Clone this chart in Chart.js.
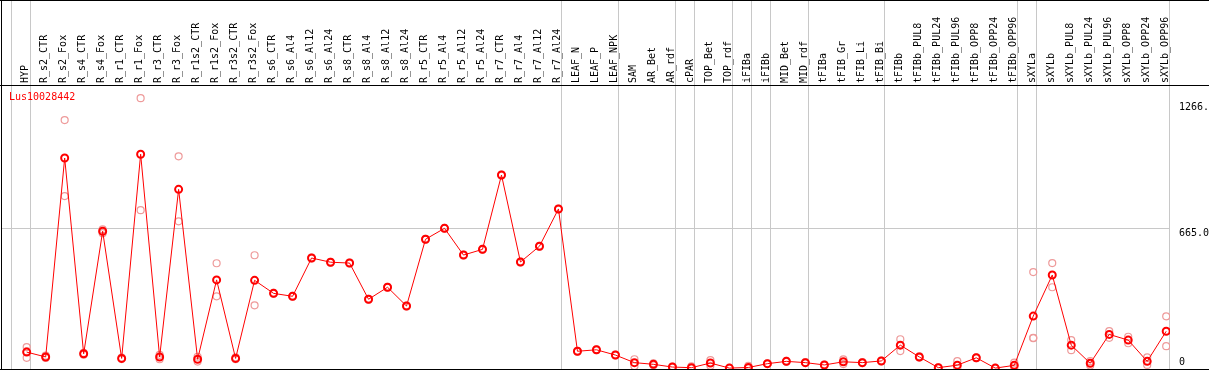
<!DOCTYPE html>
<html>
<head>
<meta charset="utf-8">
<script src="https://cdn.jsdelivr.net/npm/chart.js@4/dist/chart.umd.min.js"></script>
<style>
  html, body { margin: 0; padding: 0; background: #fff; }
  canvas { display: block; }
</style>
</head>
<body>
<canvas id="geneChart" width="1209" height="370"></canvas>
<script>
// Sample names along the top
const categories = [
    'HYP', 'R_s2_CTR', 'R_s2_Fox', 'R_s4_CTR', 'R_s4_Fox', 'R_r1_CTR', 'R_r1_Fox',
    'R_r3_CTR', 'R_r3_Fox', 'R_r1s2_CTR', 'R_r1s2_Fox', 'R_r3s2_CTR', 'R_r3s2_Fox',
    'R_s6_CTR', 'R_s6_Al4', 'R_s6_Al12', 'R_s6_Al24', 'R_s8_CTR', 'R_s8_Al4',
    'R_s8_Al12', 'R_s8_Al24', 'R_r5_CTR', 'R_r5_Al4', 'R_r5_Al12', 'R_r5_Al24',
    'R_r7_CTR', 'R_r7_Al4', 'R_r7_Al12', 'R_r7_Al24', 'LEAF_N', 'LEAF_P', 'LEAF_NPK',
    'SAM', 'AR_Bet', 'AR_rdf', 'cPAR', 'TOP_Bet', 'TOP_rdf', 'iFIBa', 'iFIBb',
    'MID_Bet', 'MID_rdf', 'tFIBa', 'tFIB_Gr', 'tFIB_Li', 'tFIB_Bi', 'tFIBb',
    'tFIBb_PUL8', 'tFIBb_PUL24', 'tFIBb_PUL96', 'tFIBb_OPP8', 'tFIBb_OPP24', 'tFIBb_OPP96',
    'sXYLa', 'sXYLb', 'sXYLb_PUL8', 'sXYLb_PUL24', 'sXYLb_PUL96', 'sXYLb_OPP8',
    'sXYLb_OPP24', 'sXYLb_OPP96'
];

// Mean expression per sample (red line)
const meanValues = [
    77, 54, 999, 69, 651, 47, 1017, 54, 850, 43, 420, 47, 418,
    356, 342, 524, 504, 500, 328, 385, 296, 613, 665, 538, 565,
    918, 505, 580, 757, 81, 88, 63,
    27, 19, 6, 3, 25, 1, 4, 22, 33, 27,
    16, 31, 27, 35, 110, 54, 3, 15, 50, 1, 14,
    248, 443, 110, 24, 161, 134, 33, 176
];

// Replicates (light circles), null where there is none
const rep1 = [
    101, 60, 1179, 73, 660, 51, 1283, 64, 1007, 55, 499, 52, 537,
    358, 344, 526, 506, 502, 330, 387, 298, 615, 667, 540, 567,
    920, 507, 582, 759, 83, 90, 65,
    43, 24, 8, 9, 39, 2, 12, 24, 35, 29,
    18, 42, 30, 37, 138, 57, 4, 34, 52, 2, 27,
    457, 500, 134, 34, 177, 150, 52, 247
];
const rep2 = [
    50, 49, 818, 65, 642, 44, 751, 43, 698, 32, 342, 43, 299,
    354, 340, 522, 502, 498, 326, 383, 294, 611, 663, 536, 563,
    916, 503, 578, 755, 79, 86, 61,
    11, 14, 4, 0, 12, 0, 0, 20, 31, 25,
    14, 20, 24, 33, 82, 51, 2, 0, 48, 0, 3,
    143, 385, 86, 13, 145, 119, 16, 105
];
const rep3 = [
    80, null, null, null, null, null, null, null, null, null, null, null, null,
    null, null, null, null, null, null, null, null, null, null, null, null,
    null, null, null, null, null, null, null,
    null, null, null, null, null, null, null, null, null, null,
    null, null, null, null, null, null, null, null, null, null, null,
    145, null, null, null, null, null, null, null
];

// Index of the last sample in each group (gray separators)
const groupEnds = [-1, 0, 28, 31, 34, 35, 37, 38, 39, 41, 45, 52, 53, 60];

// Right axis ticks
const yTickValues = [0, 665, 1266];
const yTickLabels = ['0', '665.0', '1266.'];

const geneName = 'Lus10028442';

const mono = '"DejaVu Sans Mono", monospace';

const meanPoints = meanValues.map((v, i) => ({ x: i, y: v }));
const repPoints = [];
[rep1, rep2, rep3].forEach(reps => {
    reps.forEach((v, i) => {
        if (v !== null) repPoints.push({ x: i, y: v });
    });
});

// no extra padding around the axes, the plot fills the frame
function noPadding(scale) {
    scale.paddingTop = 0;
    scale.paddingBottom = 0;
    scale.paddingLeft = 0;
    scale.paddingRight = 0;
}

// frame lines and the gene name inside the plot
const framePlugin = {
    id: 'frame',
    afterDraw(chart) {
        const { ctx, chartArea } = chart;
        ctx.save();
        ctx.fillStyle = '#000';
        ctx.fillRect(0, 0, chart.width, 1);
        ctx.fillRect(0, 85, chart.width, 1);
        ctx.fillRect(1, 0, 1, chart.height);
        ctx.fillRect(0, 369, chart.width, 1);
        ctx.fillStyle = '#ff0000';
        ctx.font = '10px ' + mono;
        ctx.textBaseline = 'middle';
        ctx.fillText(chart.data.datasets[0].label, chartArea.left + 7, chartArea.top + 11);
        ctx.restore();
    }
};

const ctx = document.getElementById('geneChart').getContext('2d');

new Chart(ctx, {
    type: 'line',
    data: {
        datasets: [{
            label: geneName,
            data: meanPoints,
            borderColor: '#ff0000',
            borderWidth: 1,
            pointRadius: 3.5,
            pointBorderWidth: 2,
            pointBorderColor: '#ff0000',
            pointBackgroundColor: 'rgba(0,0,0,0)',
            tension: 0,
            order: 0
        }, {
            label: 'replicates',
            data: repPoints,
            showLine: false,
            pointRadius: 3.5,
            pointBorderWidth: 1.2,
            pointBorderColor: '#ee9a9a',
            pointBackgroundColor: 'rgba(0,0,0,0)',
            order: 1
        }]
    },
    options: {
        responsive: false,
        animation: false,
        devicePixelRatio: 1,
        layout: {
            autoPadding: false,
            padding: { left: 2, right: 0, top: 0, bottom: 0 }
        },
        plugins: {
            legend: { display: false },
            tooltip: { enabled: false }
        },
        scales: {
            x: {
                type: 'linear',
                position: 'top',
                weight: 1,
                min: -1.3,
                max: 60.2,
                afterBuildTicks: scale => {
                    scale.ticks = categories.map((c, i) => ({ value: i }));
                },
                afterFit: scale => { scale.height = 86; noPadding(scale); },
                grid: { display: false, drawTicks: false },
                border: { display: false },
                ticks: {
                    autoSkip: false,
                    minRotation: 90,
                    maxRotation: 90,
                    padding: 3,
                    labelOffset: 11,
                    color: '#000',
                    font: { family: mono, size: 10 },
                    callback: value => categories[value]
                }
            },
            // separators between sample groups
            x2: {
                type: 'linear',
                position: 'top',
                weight: 0,
                min: -1.3,
                max: 60.2,
                afterBuildTicks: scale => {
                    scale.ticks = groupEnds.map(g => ({ value: g + 0.18 }));
                },
                afterFit: scale => { scale.height = 0; noPadding(scale); },
                grid: {
                    color: '#c8c8c8',
                    lineWidth: 1,
                    drawTicks: true,
                    tickLength: 86
                },
                border: { display: false },
                ticks: { display: false }
            },
            y: {
                type: 'linear',
                position: 'right',
                min: -8,
                max: 1341,
                afterBuildTicks: scale => {
                    scale.ticks = yTickValues.map(v => ({ value: v }));
                },
                afterFit: scale => { scale.width = 39; noPadding(scale); },
                grid: {
                    drawTicks: false,
                    color: c => (c.tick && c.tick.value === 665) ? '#c8c8c8' : 'rgba(0,0,0,0)'
                },
                border: { display: false },
                ticks: {
                    padding: 9,
                    color: '#000',
                    font: { family: mono, size: 10, lineHeight: 1.1 },
                    callback: value => {
                        const label = yTickLabels[yTickValues.indexOf(value)];
                        return value === 0 ? [label, ''] : ['', label];
                    }
                }
            }
        }
    },
    plugins: [framePlugin]
});
</script>
</body>
</html>
